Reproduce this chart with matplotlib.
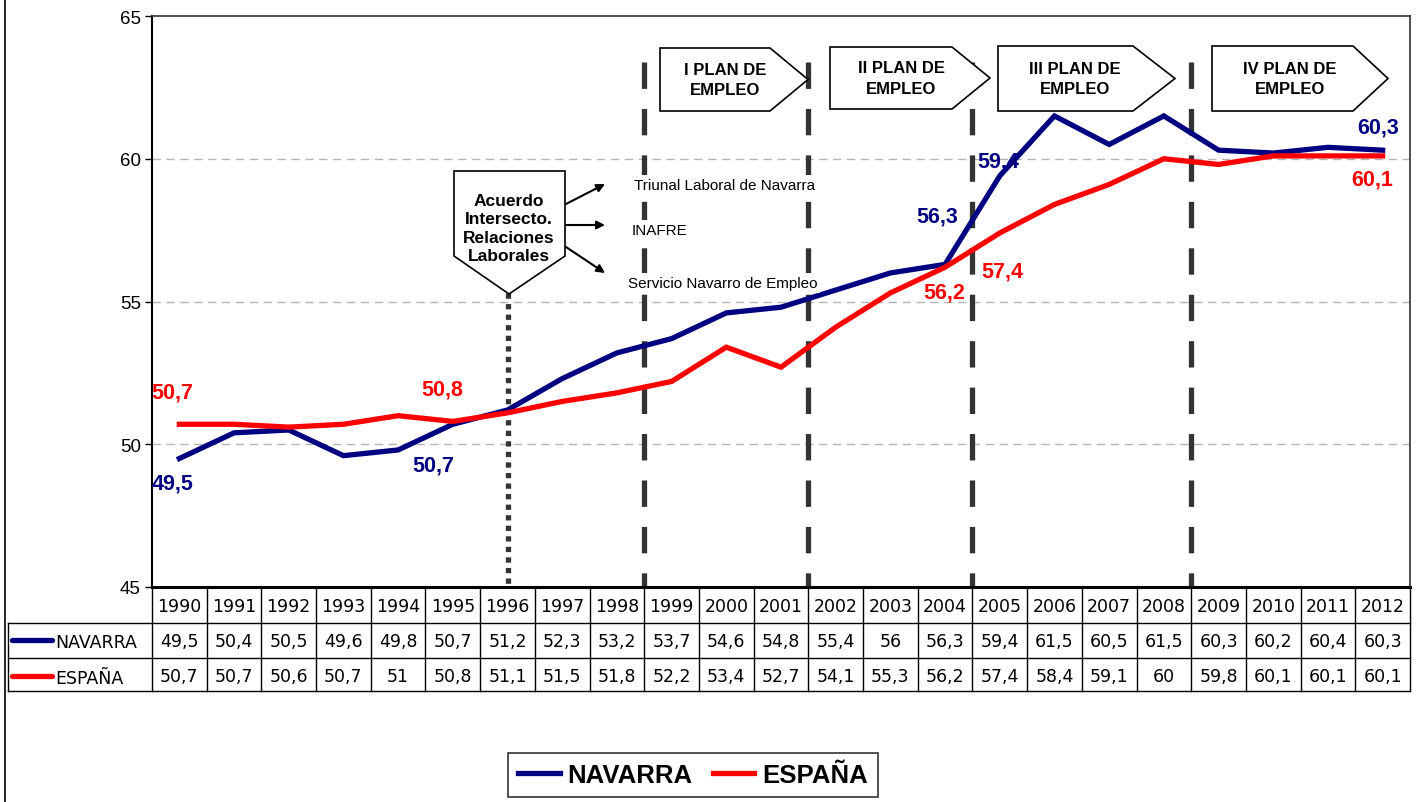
import matplotlib
matplotlib.use("Agg")
import matplotlib.pyplot as plt
from matplotlib.patches import Polygon

plt.rcParams['font.family'] = ['Liberation Sans', 'DejaVu Sans']

# datos
years = [str(y) for y in range(1990, 2013)]
navarra = [49.5, 50.4, 50.5, 49.6, 49.8, 50.7, 51.2, 52.3, 53.2, 53.7, 54.6, 54.8,
           55.4, 56, 56.3, 59.4, 61.5, 60.5, 61.5, 60.3, 60.2, 60.4, 60.3]
espana = [50.7, 50.7, 50.6, 50.7, 51, 50.8, 51.1, 51.5, 51.8, 52.2, 53.4, 52.7,
          54.1, 55.3, 56.2, 57.4, 58.4, 59.1, 60, 59.8, 60.1, 60.1, 60.1]
yticks = [45, 50, 55, 60, 65]

# etiquetas de datos: indice del año y desplazamiento en pixeles
nav_labels = [(0, (-7, -24)), (5, (-20, -41)), (14, (-8, 48)), (15, (-2, 15)), (22, (-5, 23))]
esp_labels = [(0, (-7, 32)), (5, (-11, 32)), (14, (-1, -25)), (15, (3, -38)), (22, (-10, -23))]

# lineas verticales: limites entre años (indices)
plan_bounds = [8.5, 11.5, 14.5, 18.5]
acuerdo_idx = 6

NAVY = '#000080'
RED = '#FF0000'

W, H = 1422, 803
fig = plt.figure(figsize=(W / 100, H / 100), dpi=100)

L, R, T, B = 152, 1410, 17, 588
ax = fig.add_axes([L / W, 1 - B / H, (R - L) / W, (B - T) / H])
ax.set_facecolor('none')
n = len(years)
x = list(range(n))
ax.set_xlim(-0.5, n - 0.5)
ax.set_ylim(45, 65)
ax.set_yticks(yticks)
ax.set_yticklabels([str(t) for t in yticks], fontsize=13.5)
ax.tick_params(axis='y', length=5, width=1, direction='out', pad=3)
ax.set_xticks([])
for y in yticks[1:-1]:
    ax.axhline(y, color='#b4b4b4', lw=1, dashes=(6, 4), zorder=0)
for s in ['top', 'right']:
    ax.spines[s].set_linewidth(1.2)
    ax.spines[s].set_color('#333333')
ax.spines['left'].set_linewidth(1.5)
ax.spines['bottom'].set_linewidth(2.2)

ln_nav, = ax.plot(x, navarra, color=NAVY, lw=3.8, solid_joinstyle='miter', zorder=3)
ln_esp, = ax.plot(x, espana, color=RED, lw=3.8, solid_joinstyle='miter', zorder=4)

for xb in plan_bounds:
    ax.plot([xb, xb], [63.4, 45], color='#333333', lw=3.8, dashes=(5, 3.8),
            dash_capstyle='butt', zorder=2, clip_on=False)
ax.plot([acuerdo_idx, acuerdo_idx], [55.3, 45], color='#333333', lw=3.8,
        dashes=(1, 1), dash_capstyle='butt', zorder=2)

for i, off in nav_labels:
    ax.annotate(f"{navarra[i]:g}".replace('.', ','), (i, navarra[i]), xytext=off,
                textcoords='offset pixels', ha='center', va='center',
                color=NAVY, fontsize=15.5, fontweight='bold', zorder=6)
for i, off in esp_labels:
    ax.annotate(f"{espana[i]:g}".replace('.', ','), (i, espana[i]), xytext=off,
                textcoords='offset pixels', ha='center', va='center',
                color=RED, fontsize=15.5, fontweight='bold', zorder=6)

# capa en pixeles para tabla y cuadros
ov = fig.add_axes([0, 0, 1, 1], zorder=5)
ov.set_xlim(0, W)
ov.set_ylim(H, 0)
ov.axis('off')
ov.patch.set_alpha(0)

ov.plot([5, 5], [0, H], color='black', lw=1.2)

# tabla de datos
cw = (R - L) / n
rows = [588, 624, 659, 692]
for k in range(n + 1):
    ov.plot([L + k * cw] * 2, [rows[0], rows[-1]], color='black', lw=1)
ov.plot([L, R], [rows[0], rows[0]], color='black', lw=1)
for r in rows[1:]:
    ov.plot([8, R], [r, r], color='black', lw=1)
ov.plot([8, 8], [rows[1], rows[-1]], color='black', lw=1)

def fmt(v):
    return f"{v:g}".replace('.', ',')

for k in range(n):
    cx = L + (k + 0.5) * cw
    ov.text(cx, 607, years[k], ha='center', va='center', fontsize=12.5, family='DejaVu Sans')
    ov.text(cx, 642, fmt(navarra[k]), ha='center', va='center', fontsize=12.5, family='DejaVu Sans')
    ov.text(cx, 677, fmt(espana[k]), ha='center', va='center', fontsize=12.5, family='DejaVu Sans')
ov.plot([12, 52], [641, 641], color=NAVY, lw=3.8, solid_capstyle='round')
ov.plot([12, 52], [677, 677], color=RED, lw=3.8, solid_capstyle='round')
ov.text(55, 643, 'NAVARRA', ha='left', va='center', fontsize=12.5, family='DejaVu Sans')
ov.text(55, 679, 'ESPAÑA', ha='left', va='center', fontsize=12.5, family='DejaVu Sans')

# cuadros de planes de empleo
plans = [('I PLAN DE\nEMPLEO', 660, 770, 808, 49, 112, 725),
         ('II PLAN DE\nEMPLEO', 830, 952, 990, 48, 110, 901),
         ('III PLAN DE\nEMPLEO', 998, 1133, 1175, 47, 112, 1075),
         ('IV PLAN DE\nEMPLEO', 1212, 1353, 1388, 47, 112, 1290)]
for txt, x0, x1, x2, y0, y1, tx in plans:
    ym = (y0 + y1) / 2
    ov.add_patch(Polygon([(x0, y0), (x1, y0), (x2, ym), (x1, y1), (x0, y1)],
                         closed=True, facecolor='white', edgecolor='black', lw=1.2))
    ov.text(tx, ym, txt, ha='center', va='center', fontsize=12, fontweight='bold',
            linespacing=1.45)

# cuadro del acuerdo
ov.add_patch(Polygon([(454, 172), (565, 172), (565, 257), (509, 295), (454, 257)],
                     closed=True, facecolor='white', edgecolor='black', lw=1.2))
ov.text(509, 229, 'Acuerdo\nIntersecto.\nRelaciones\nLaborales', ha='center', va='center',
        fontsize=12.5, fontweight='bold', linespacing=1.3)

arrows = [((566, 205), (605, 185)), ((566, 226), (605, 226)), ((566, 248), (605, 274))]
for p0, p1 in arrows:
    ov.annotate('', xy=p1, xytext=p0,
                arrowprops=dict(arrowstyle='-|>', color='black', lw=1.5, mutation_scale=12,
                                shrinkA=0, shrinkB=0))

notes = [('Triunal Laboral de Navarra', 634, 186),
         ('INAFRE', 632, 231),
         ('Servicio Navarro de Empleo', 628, 284)]
for txt, tx, ty in notes:
    ov.text(tx, ty, txt, ha='left', va='center', fontsize=11,
            bbox=dict(facecolor='white', edgecolor='none', pad=2))

# leyenda
leg = fig.legend([ln_nav, ln_esp], ['NAVARRA', 'ESPAÑA'], ncol=2, loc='center',
                 bbox_to_anchor=(693 / W, 1 - 776 / H), frameon=True, fancybox=False,
                 edgecolor='black', prop={'weight': 'bold', 'size': 18.5},
                 handlelength=1.6, handletextpad=0.3, columnspacing=0.8,
                 borderpad=0.4, borderaxespad=0)
leg.get_frame().set_linewidth(1.2)

fig.savefig('out.png', dpi=100)
